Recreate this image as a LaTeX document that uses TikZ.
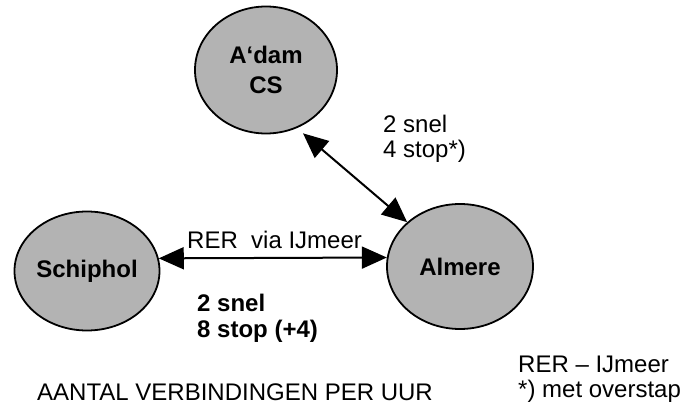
\documentclass[tikz,border=0pt]{standalone}
\usepackage{fontspec}
\setmainfont{Liberation Sans}
\usetikzlibrary{arrows.meta,shapes.geometric}
\definecolor{stationfill}{RGB}{179,179,179}
\tikzset{
  station/.style={ellipse, draw=black, line width=1.8pt, fill=stationfill,
    inner sep=0pt, align=center,
    font=\fontsize{24}{30}\selectfont\bfseries},
  link/.style={line width=2pt, {Triangle[length=25pt,width=22pt]}-{Triangle[length=25pt,width=22pt]}},
  % base anchor of a multi-line label sits on its last line
  lbl/.style={anchor=base west, inner sep=0pt, align=left,
    font=\fontsize{24}{25}\selectfont},
}
\begin{document}
\begin{tikzpicture}[x=1pt,y=-1pt]
  \useasboundingbox (0,0) rectangle (691,411);

  % stations
  \node[station, minimum width=142pt, minimum height=127pt] (adam) at (266,70) {A‘dam\\CS};
  \node[station, minimum width=145pt, minimum height=119pt] (schiphol) at (87,271) {Schiphol};
  \node[station, minimum width=146pt, minimum height=125pt] (almere) at (460,266.5) {Almere};

  % connections
  \draw[link] (schiphol.10.4) -- (almere.173);
  \draw[link, shorten <=8pt] (adam.298) -- (almere.140);

  % labels
  \node[lbl] (via) at (187,249) {RER\ \ via IJmeer};
  \node[lbl] (adamfreq) at (383,158) {2 snel\\4 stop*)};
  \node[lbl, font=\fontsize{24}{26}\selectfont\bfseries] (rerfreq) at (197,338) {2 snel\\8 stop (+4)};
  \node[lbl, font=\fontsize{24}{24.5}\selectfont] (legend) at (518,397.5) {RER – IJmeer\\*) met overstap};
  \node[lbl] (title) at (37,401) {AANTAL VERBINDINGEN PER UUR};
\end{tikzpicture}
\end{document}
